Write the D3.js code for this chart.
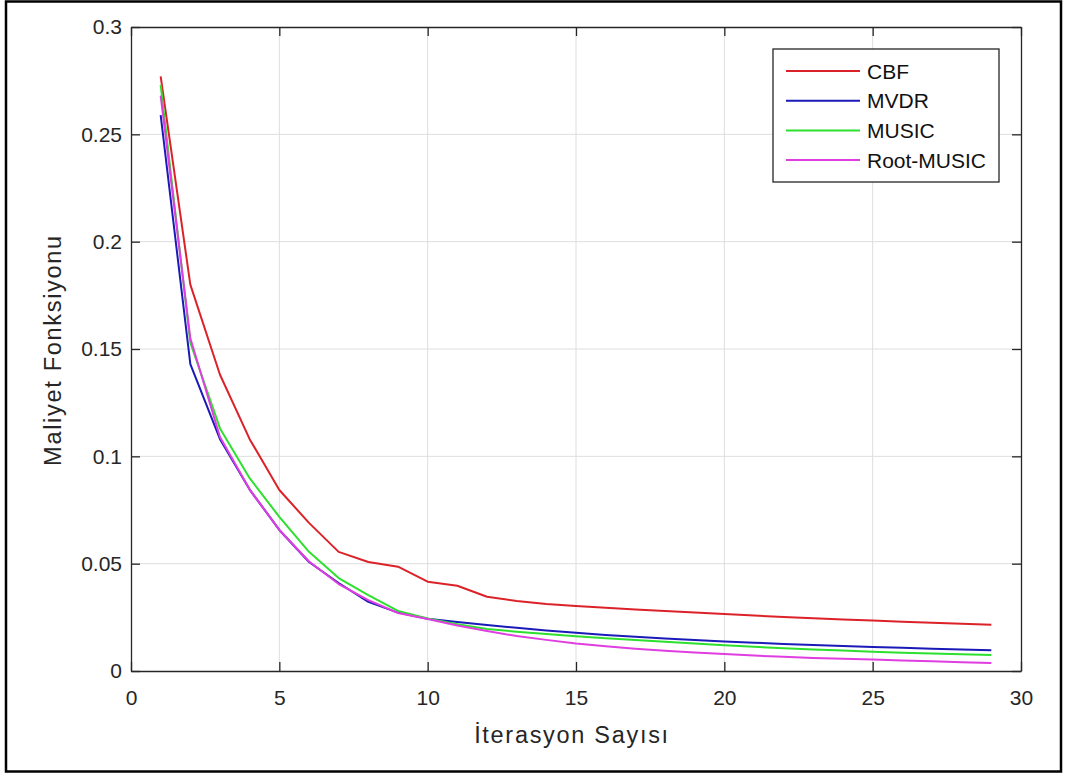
<!DOCTYPE html>
<html>
<head>
<meta charset="utf-8">
<script src="https://cdn.jsdelivr.net/npm/d3@7"></script>
<style>
  body { margin: 0; background: #fff; }
  svg { display: block; font-family: "Liberation Sans", Arial, sans-serif; }
  .tick-label { fill: #262626; font-size: 21px; }
  .axis-title { fill: #262626; font-size: 23.5px; letter-spacing: 1.7px; }
  .legend-label { fill: #111; font-size: 21px; }
</style>
</head>
<body>
<div id="chart"></div>
<script>
// Maliyet fonksiyonu vs. iterasyon sayisi, four DOA methods

const iterations = d3.range(1, 30);

const cbf = [0.277, 0.180, 0.138, 0.108, 0.0843, 0.069, 0.0555, 0.0508, 0.0486, 0.0416,
  0.0397, 0.0346, 0.0326, 0.0312, 0.0303, 0.0295, 0.0287, 0.028, 0.0272, 0.0265,
  0.0258, 0.0252, 0.0246, 0.024, 0.0235, 0.0230, 0.0225, 0.0220, 0.0215];
const mvdr = [0.259, 0.143, 0.108, 0.0845, 0.0657, 0.0508, 0.041, 0.0322, 0.0272, 0.0243,
  0.0228, 0.0214, 0.0201, 0.0189, 0.0178, 0.0168, 0.0159, 0.0151, 0.0144, 0.0138,
  0.0132, 0.0126, 0.0121, 0.0116, 0.0112, 0.0108, 0.0104, 0.0100, 0.0097];
const music = [0.273, 0.153, 0.113, 0.0898, 0.0718, 0.0555, 0.0433, 0.0354, 0.028, 0.0245,
  0.0218, 0.0196, 0.0183, 0.0172, 0.0162, 0.0153, 0.0144, 0.0136, 0.0128, 0.0120,
  0.0113, 0.0106, 0.0100, 0.0095, 0.0090, 0.0085, 0.0081, 0.0078, 0.0075];
const rootMusic = [0.268, 0.155, 0.109, 0.0845, 0.0657, 0.051, 0.0405, 0.033, 0.027, 0.0242,
  0.0212, 0.0186, 0.0163, 0.0145, 0.0128, 0.0115, 0.0104, 0.0094, 0.0086, 0.0079,
  0.0072, 0.0066, 0.0061, 0.0057, 0.0053, 0.0049, 0.0045, 0.0041, 0.0037];

const seriesNames = ['CBF', 'MVDR', 'MUSIC', 'Root-MUSIC'];
const seriesColors = ['#dc2229', '#1a1ab8', '#2ee02e', '#e03ee0'];
const seriesValues = [cbf, mvdr, music, rootMusic];

const xTicks = [0, 5, 10, 15, 20, 25, 30];
const yTicks = [0, 0.05, 0.1, 0.15, 0.2, 0.25, 0.3];

const width = 1066;
const height = 776;
const margin = { top: 27, left: 131 };
const innerWidth = 1021 - margin.left;
const innerHeight = 671 - margin.top;

const svg = d3.select('#chart')
  .append('svg')
  .attr('width', width)
  .attr('height', height);

// outer figure frame
svg.append('rect')
  .attr('x', 6).attr('y', 1.5)
  .attr('width', 1055).attr('height', 770)
  .attr('fill', 'none')
  .attr('stroke', '#000')
  .attr('stroke-width', 2.5);

const g = svg.append('g')
  .attr('transform', `translate(${margin.left},${margin.top})`);

const x = d3.scaleLinear().domain([0, 30]).range([0, innerWidth]);
const y = d3.scaleLinear().domain([0, 0.3]).range([innerHeight, 0]);

// grid
g.append('g')
  .selectAll('line')
  .data(xTicks.slice(1, -1))
  .enter().append('line')
  .attr('x1', d => x(d)).attr('x2', d => x(d))
  .attr('y1', 0).attr('y2', innerHeight)
  .attr('stroke', '#dedede').attr('stroke-width', 1);

g.append('g')
  .selectAll('line')
  .data(yTicks.slice(1, -1))
  .enter().append('line')
  .attr('x1', 0).attr('x2', innerWidth)
  .attr('y1', d => y(d)).attr('y2', d => y(d))
  .attr('stroke', '#dedede').attr('stroke-width', 1);

// axes with inward ticks on all sides
const tickLen = 9;
const axisBottom = g.append('g')
  .attr('transform', `translate(0,${innerHeight})`)
  .call(d3.axisBottom(x).tickValues(xTicks).tickSizeInner(-tickLen).tickSizeOuter(0).tickPadding(19));
const axisTop = g.append('g')
  .call(d3.axisTop(x).tickValues(xTicks).tickSizeInner(-tickLen).tickSizeOuter(0));
const axisLeft = g.append('g')
  .call(d3.axisLeft(y).tickValues(yTicks).tickSizeInner(-tickLen).tickSizeOuter(0).tickPadding(9)
    .tickFormat(d => d === 0 ? '0' : String(+d.toFixed(2))));
const axisRight = g.append('g')
  .attr('transform', `translate(${innerWidth},0)`)
  .call(d3.axisRight(y).tickValues(yTicks).tickSizeInner(-tickLen).tickSizeOuter(0));

axisTop.selectAll('.tick text').remove();
axisRight.selectAll('.tick text').remove();

[axisBottom, axisTop, axisLeft, axisRight].forEach(a => {
  a.attr('font-size', null).attr('font-family', null);
  a.select('.domain').attr('stroke', '#262626').attr('stroke-width', 1.3);
  a.selectAll('.tick line').attr('stroke', '#262626').attr('stroke-width', 1.3);
  a.selectAll('.tick text').attr('class', 'tick-label');
});

// series lines
const line = d3.line()
  .x((d, i) => x(iterations[i]))
  .y(d => y(d));

seriesValues.forEach((vals, i) => {
  g.append('path')
    .datum(vals)
    .attr('fill', 'none')
    .attr('stroke', seriesColors[i])
    .attr('stroke-width', 2)
    .attr('stroke-linejoin', 'round')
    .attr('d', line);
});

// axis titles
g.append('text')
  .attr('class', 'axis-title')
  .attr('x', innerWidth / 2 - 4)
  .attr('y', 716)
  .attr('text-anchor', 'middle')
  .text('İterasyon Sayısı');

g.append('text')
  .attr('class', 'axis-title')
  .attr('transform', 'rotate(-90)')
  .attr('x', -(350 - margin.top))
  .attr('y', -70)
  .attr('text-anchor', 'middle')
  .text('Maliyet Fonksiyonu');

// legend
const legend = svg.append('g').attr('transform', 'translate(773,49)');
legend.append('rect')
  .attr('width', 226).attr('height', 133)
  .attr('fill', '#fff')
  .attr('stroke', '#262626')
  .attr('stroke-width', 1.3);

const rows = legend.selectAll('.legend-row')
  .data(seriesNames)
  .enter().append('g')
  .attr('class', 'legend-row')
  .attr('transform', (d, i) => `translate(0,${22 + i * 29.7})`);

rows.append('line')
  .attr('x1', 13).attr('x2', 87)
  .attr('stroke', (d, i) => seriesColors[i])
  .attr('stroke-width', 2);

rows.append('text')
  .attr('class', 'legend-label')
  .attr('x', 94)
  .attr('dy', '0.36em')
  .text(d => d);
</script>
</body>
</html>
